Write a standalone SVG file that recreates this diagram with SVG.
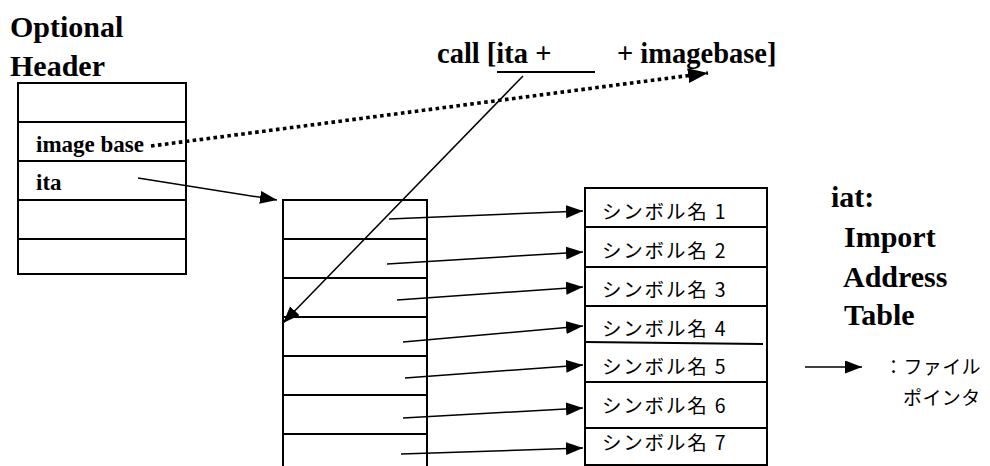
<svg xmlns="http://www.w3.org/2000/svg" width="990" height="466" viewBox="0 0 990 466">
  <style>
    .bg { fill: #ffffff; }
    .box { fill: none; stroke: #000; stroke-width: 2; }
    .rule { fill: none; stroke: #000; stroke-width: 2; }
    .link { fill: none; stroke: #000; stroke-width: 1.5; }
    .dots { fill: none; stroke: #000; stroke-width: 3.6; stroke-dasharray: 3.6 3.4; }
    .title { font-family: "Liberation Serif", serif; font-weight: bold; font-size: 30px; fill: #000; }
    .field { font-family: "Liberation Serif", serif; font-weight: bold; font-size: 23px; fill: #000; }
    .code { font-family: "Liberation Serif", serif; font-weight: bold; font-size: 28.5px; fill: #000; }
    .sym { font-family: "Noto Sans CJK JP", sans-serif; font-size: 19.5px; letter-spacing: 1.8px; fill: #000; }
    .note { font-family: "Noto Sans CJK JP", sans-serif; font-size: 19px; letter-spacing: 0.4px; fill: #000; }
  </style>
  <defs>
    <marker id="head" markerUnits="userSpaceOnUse" markerWidth="18" markerHeight="14" refX="17" refY="6.5" orient="auto">
      <path d="M0,0 L17,6.5 L0,13 z" fill="#000" stroke="none"/>
    </marker>
    <marker id="head-big" markerUnits="userSpaceOnUse" markerWidth="21" markerHeight="16" refX="20" refY="7.5" orient="auto">
      <path d="M0,0 L20,7.5 L0,15 z" fill="#000" stroke="none"/>
    </marker>
  </defs>

  <rect class="bg" x="0" y="0" width="990" height="466"/>

  <!-- Optional Header table -->
  <g id="optional-header">
    <text class="title" x="10" y="37">Optional</text>
    <text class="title" x="10" y="76">Header</text>
    <rect class="box" x="18" y="83" width="168" height="191"/>
    <path class="rule" d="M18,122 H186 M18,161 H186 M18,200 H186 M18,239 H186"/>
    <text class="field" x="36" y="152">image base</text>
    <text class="field" x="36" y="190">ita</text>
  </g>

  <!-- call instruction -->
  <g id="call-expr">
    <text class="code" x="437" y="63">call [ita +</text>
    <text class="code" x="617" y="63">+ imagebase]</text>
    <path class="rule" d="M497,72 H595"/>
  </g>

  <!-- Import Address Table (pointer slots) -->
  <g id="iat-slots">
    <path class="box" d="M283,466 V200 H427 V466"/>
    <path class="rule" d="M283,239 H427 M283,278 H427 M283,317 H427 M283,356 H427 M283,395 H427 M283,434 H427"/>
  </g>

  <!-- symbol name table -->
  <g id="symbol-names">
    <rect class="box" x="585" y="188" width="182" height="277"/>
    <path class="rule" d="M585,227 H767 M585,267 H767 M585,306 H767 M585,342 L763,344 M585,382 H767 M585,428 H767"/>
    <text class="sym" x="602" y="219">シンボル名 1</text>
    <text class="sym" x="602" y="258">シンボル名 2</text>
    <text class="sym" x="602" y="297">シンボル名 3</text>
    <text class="sym" x="602" y="336">シンボル名 4</text>
    <text class="sym" x="602" y="374">シンボル名 5</text>
    <text class="sym" x="602" y="413">シンボル名 6</text>
    <text class="sym" x="602" y="450">シンボル名 7</text>
  </g>

  <!-- IAT caption -->
  <g id="iat-caption">
    <text class="title" x="831" y="207">iat:</text>
    <text class="title" x="844" y="247">Import</text>
    <text class="title" x="843" y="287">Address</text>
    <text class="title" x="844" y="325">Table</text>
  </g>

  <!-- legend -->
  <g id="legend">
    <path class="link" d="M805,367 H862" marker-end="url(#head)"/>
    <text class="note" x="884" y="374">：ファイル</text>
    <text class="note" x="903" y="405">ポインタ</text>
  </g>

  <!-- connectors -->
  <g id="connectors">
    <path class="dots" d="M151,146 L708,73" marker-end="url(#head-big)"/>
    <path class="link" d="M138,178 L277,200" marker-end="url(#head)"/>
    <path class="link" d="M523,76 L283,323" marker-end="url(#head)"/>
    <path class="link" d="M389,219 L583,211" marker-end="url(#head)"/>
    <path class="link" d="M387,264 L583,252" marker-end="url(#head)"/>
    <path class="link" d="M397,300 L583,287" marker-end="url(#head)"/>
    <path class="link" d="M403,342 L583,326" marker-end="url(#head)"/>
    <path class="link" d="M405,378 L583,365" marker-end="url(#head)"/>
    <path class="link" d="M403,418 L583,408" marker-end="url(#head)"/>
    <path class="link" d="M401,454 L583,448" marker-end="url(#head)"/>
  </g>
</svg>
